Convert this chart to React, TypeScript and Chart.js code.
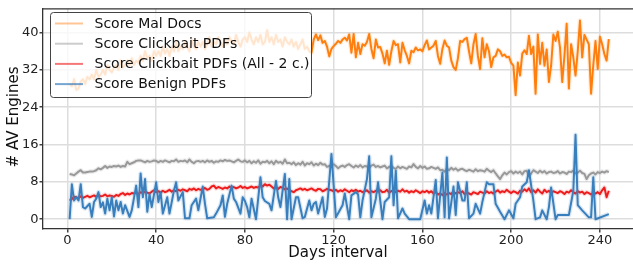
import React, { useEffect, useRef } from 'react';
import { Chart, registerables } from 'chart.js';

Chart.register(...registerables);

// ---- Data ----
const malScores = [
  29, 28.5, 30, 27.7, 28, 29.5, 30, 29, 30.5, 30,
  31, 30, 32, 30.5, 31, 32, 31, 33, 32, 31.5,
  32.5, 33, 32, 34, 32.5, 33, 34, 33, 34.5, 33,
  34, 33.5, 35, 34, 36, 34.5, 35, 34, 36, 35,
  36, 35, 37, 35.5, 36.5, 35, 37, 36, 38, 36,
  37, 36.5, 38, 37, 36, 38.5, 37, 36.5, 38, 37,
  38, 36.5, 37.5, 39, 37, 38, 37.5, 39, 38, 37,
  38.5, 37.5, 39, 38, 37.5, 39.5, 38, 37, 38.5, 39,
  38, 40, 38.5, 37.5, 39, 38, 39.5, 37.5, 38, 40.5,
  38, 39, 37.5, 39.5, 38, 38.5, 37, 39, 38, 37.5,
  38.5, 37, 38, 36.5, 37.5, 38.5, 36.5, 37, 36, 35.7,
  38.5, 39.6, 38.4, 39.4, 37.8, 38.2, 37.0, 34.9, 36.5, 37.1,
  37.6, 38.2, 37.8, 38.5, 38.9, 38.3, 39.6, 35.7, 39.7, 34.7,
  37.8, 35.4, 37.5, 37.2, 38.0, 39.7, 36.5, 34.5, 38.5, 36.8,
  36.9, 35.5, 33.4, 36.1, 33.1, 36.0, 38.2, 37.3, 37.5, 33.6,
  37.8, 36.2, 35.0, 33.4, 36.1, 35.8, 36.8, 36.2, 36.4, 36.0,
  37.3, 38.3, 36.4, 36.8, 37.2, 38.2, 35.0, 33.3, 36.5, 38.3,
  37.2, 36.8, 34.0, 32.6, 32.0, 34.5, 38.2, 38.0, 38.6, 38.9,
  36.0, 33.4, 37.5, 39.7, 35.0, 32.2, 38.8, 34.7, 37.5, 36.0,
  32.6, 34.7, 35.0, 36.4, 36.0, 35.0, 35.3, 34.7, 34.8, 33.5,
  32.9, 26.6, 33.6, 30.8, 35.5, 36.2, 35.4, 39.3, 35.4, 37.0,
  26.9, 39.6, 33.3, 37.8, 32.9, 36.4, 29.4, 33.0, 39.6, 38.2,
  40.2, 36.8, 29.4, 35.0, 41.9, 28.0, 37.5, 34.7, 30.8, 36.0,
  42.6, 34.7, 39.5, 38.5, 37.5, 26.9, 33.0, 38.2, 32.2, 39.1,
  37.5, 35.4, 34.0, 38.6,
];

const clickbaitScores = [
  9.7, 9.6, 9.4, 9.8, 10.2, 10.5, 10.0, 10.0, 10.1, 10.2,
  10.2, 10.3, 10.5, 10.9, 10.7, 11.0, 11.4, 11.0, 11.3, 11.2,
  11.4, 11.3, 11.5, 11.2, 11.4, 11.3, 12.3, 11.8, 12.0, 12.2,
  12.5, 12.6, 12.6, 12.4, 12.2, 12.5, 12.3, 12.4, 12.6, 12.5,
  12.2, 12.5, 12.3, 12.6, 12.4, 12.2, 12.5, 12.4, 12.8, 12.3,
  12.5, 12.4, 12.6, 12.2, 12.8, 12.3, 12.0, 12.4, 12.5, 12.3,
  12.5, 12.2, 12.6, 12.3, 12.5, 12.1, 12.4, 12.3, 12.6, 12.4,
  12.7, 12.5, 12.6, 12.4, 12.2, 12.5, 12.8, 12.4, 12.3, 12.6,
  12.2, 12.5, 12.0, 12.4, 12.1, 12.6, 11.9, 12.3, 12.2, 12.5,
  12.0, 12.4, 11.8, 12.5, 12.1, 12.3, 11.9, 12.8, 12.0, 12.1,
  11.8, 12.2, 11.6, 12.0, 11.7, 12.3, 11.5, 12.0, 11.8, 12.2,
  11.5, 11.9, 11.6, 12.1, 11.7, 11.8, 11.2, 11.4, 11.6, 11.8,
  11.4, 10.9, 11.3, 11.5, 11.2, 11.6, 11.8, 11.4, 11.1, 11.5,
  11.2, 11.6, 11.1, 11.4, 11.3, 11.0, 11.5, 11.7, 11.2, 11.4,
  11.1, 11.3, 11.5, 10.9, 11.2, 11.4, 11.0, 10.8, 11.3, 10.9,
  11.2, 11.0, 10.8, 11.3, 11.1, 11.8, 11.2, 10.9, 11.4, 11.0,
  11.3, 10.8, 10.9, 11.2, 11.0, 10.8, 11.1, 10.5, 10.6, 10.2,
  10.8, 10.5, 11.0, 10.6, 10.9, 10.4, 10.7, 10.8, 10.5, 10.3,
  10.6, 10.4, 10.2, 10.7, 10.3, 10.5, 10.4, 10.2, 10.8, 10.4,
  10.1, 10.5, 9.8, 9.2, 8.6, 9.4, 10.0, 9.6, 10.1, 10.3,
  9.8, 10.2, 9.9, 10.2, 9.6, 10.3, 10.4, 9.3, 9.8, 10.5,
  10.2, 9.9, 10.4, 10.0, 10.3, 9.8, 10.1, 10.2, 9.9, 10.0,
  10.3, 9.8, 10.1, 10.0, 9.7, 10.2, 10.1, 10.4, 9.8, 10.0,
  10.4, 9.9, 9.7, 8.6, 9.4, 9.8, 10.0, 9.6, 10.1, 9.9,
  10.2, 10.0, 10.3, 10.1,
];

const clickbait2cScores = [
  4.0, 4.3, 4.8, 4.7, 4.5, 4.9, 4.6, 4.8, 5.0, 4.7,
  4.9, 5.1, 4.8, 5.2, 4.9, 5.0, 5.3, 4.9, 5.1, 5.0,
  4.8, 5.2, 5.0, 5.4, 5.6, 5.2, 5.5, 5.3, 5.6, 5.5,
  5.7, 5.4, 5.8, 5.6, 5.9, 5.7, 5.5, 5.9, 6.2, 5.8,
  6.0, 5.7, 6.1, 5.8, 6.0, 6.3, 5.9, 6.2, 6.0, 6.3,
  6.1, 6.4, 6.2, 6.0, 6.5, 6.3, 6.6, 6.2, 6.5, 6.3,
  6.4, 6.7, 6.3, 6.5, 7.0, 7.2, 6.6, 6.9, 6.7, 6.5,
  6.8, 6.6, 7.0, 6.7, 6.9, 6.6, 6.8, 7.1, 6.7, 6.9,
  6.6, 6.8, 7.0, 6.7, 6.9, 6.8, 7.2, 7.0, 7.5, 7.2,
  7.4, 7.0, 6.6, 6.8, 6.5, 6.9, 6.7, 6.4, 6.6, 6.2,
  6.0, 5.8, 6.2, 6.4, 6.6, 6.3, 6.5, 6.2, 6.4, 6.6,
  6.3, 6.1, 6.5, 6.4, 6.0, 6.2, 6.5, 6.3, 6.2, 6.0,
  6.3, 5.9, 6.2, 6.0, 6.4, 6.1, 5.8, 6.2, 6.0, 6.3,
  5.9, 6.1, 5.8, 6.0, 6.2, 5.7, 6.0, 5.8, 6.1, 5.9,
  6.2, 5.8, 5.9, 6.3, 5.7, 6.0, 6.2, 5.8, 6.1, 5.9,
  6.4, 5.9, 6.1, 5.7, 6.0, 5.8, 6.2, 5.9, 5.6, 6.0,
  5.8, 6.1, 5.7, 6.0, 5.5, 5.8, 5.3, 5.5, 5.2, 5.6,
  5.3, 5.6, 5.4, 5.9, 5.5, 5.8, 5.6, 6.0, 5.4, 5.7,
  5.5, 5.3, 5.8, 5.6, 5.4, 5.9, 5.7, 5.5, 6.0, 5.6,
  5.8, 5.5, 5.9, 6.2, 5.7, 6.0, 5.8, 6.3, 5.9, 5.6,
  6.0, 5.8, 5.5, 6.1, 5.9, 6.4, 6.0, 6.6, 5.8, 6.2,
  5.7, 6.4, 5.9, 5.5, 6.3, 5.8, 6.1, 5.6, 6.0, 5.8,
  5.6, 6.0, 5.8, 5.4, 5.9, 5.7, 6.2, 5.8, 5.5, 6.0,
  5.7, 5.9, 5.4, 5.8, 5.6, 5.3, 5.7, 5.5, 5.8, 5.4,
  6.2, 6.8, 4.7, 6.1,
];

// Benign PDFs: [day, score] (some days missing)
const benignPoints: [number, number][] = [
  [1, 0], [2, 7.5], [3, 4.0], [4, 4.7], [5, 4.0], [6, 7.5], [7, 2.6], [8, 2.3], [10, 3.3], [11, 0.5],
  [12, 3.7], [13, 4.4], [14, 5.8], [15, 2.6], [16, 3.6], [17, 1.2], [18, 4.4], [19, 1.9], [20, 4.7], [21, 0.6],
  [22, 4.0], [23, 1.9], [24, 3.7], [25, 1.2], [26, 3.0], [28, 0.5], [29, 1.9], [31, 7.2], [32, 2.6], [33, 9.8],
  [34, 4.7], [35, 8.6], [36, 1.6], [37, 5.4], [38, 2.6], [40, 7.9], [41, 3.7], [42, 5.8], [43, 1.2], [45, 4.7],
  [46, 1.2], [48, 6.1], [49, 7.9], [50, 4.0], [52, 5.8], [53, 0.2], [55, 0.2], [56, 3.0], [58, 4.4], [59, 1.9],
  [61, 7.0], [62, 3.3], [63, 0.2], [66, 0.4], [67, 1.2], [69, 3.0], [70, 5.1], [71, 0.5], [72, 3.3], [74, 7.2],
  [75, 4.4], [76, 3.7], [78, 1.2], [79, 4.7], [80, 3.9], [81, 2.6], [82, 0.4], [83, 4.4], [85, 0], [87, 9.0],
  [88, 4.7], [89, 3.9], [91, 3.3], [92, 1.9], [94, 8.2], [95, 4.7], [96, 2.6], [98, 9.7], [99, 0], [100, 8.6],
  [101, 0], [103, 4.7], [104, 4.7], [106, 0.2], [107, 0.5], [109, 4.0], [110, 1.9], [111, 3.3], [112, 3.7], [113, 1.2],
  [115, 4.7], [116, 0.5], [117, 2.3], [119, 14.0], [121, 0.4], [124, 3.0], [125, 5.5], [127, 0], [128, 5.1], [130, 5.8],
  [131, 5.3], [132, 0.4], [133, 4.0], [135, 8.6], [136, 13.5], [137, 0.4], [139, 4.4], [140, 7.9], [142, 0], [143, 3.7],
  [145, 4.7], [146, 13.5], [147, 3.0], [148, 10.4], [149, 0.2], [151, 2.3], [152, 1.2], [154, 0], [159, 0], [161, 4.0],
  [162, 1.2], [163, 3.0], [164, 1.2], [166, 8.4], [167, 0.2], [169, 10.0], [170, 0.4], [171, 13.2], [172, 0.2], [174, 7.0],
  [175, 0.9], [176, 7.9], [178, 4.0], [179, 4.0], [180, 7.9], [181, 0.2], [183, 1.2], [184, 3.3], [186, 1.2], [187, 3.7],
  [189, 7.9], [190, 7.5], [192, 7.5], [193, 3.3], [195, 1.6], [197, 0], [199, 1.9], [201, 0.2], [202, 3.3], [204, 4.7],
  [205, 7.0], [207, 7.9], [208, 10.5], [210, 4.0], [211, 0], [213, 0.4], [214, 1.9], [216, 0], [217, 2.6], [218, 6.8],
  [220, 0], [221, 0.9], [226, 0.9], [228, 6.1], [229, 18.1], [230, 3.0], [232, 1.9], [235, 0.4], [236, 0.4], [237, 9.0],
  [238, 0], [244, 1.1],
];

const xTickValues = [0, 40, 80, 120, 160, 200, 240];
const yTickValues = [0, 8, 16, 24, 32, 40];
const seriesLabels = [
  'Score Mal Docs',
  'Score Clickbait PDFs',
  'Score Clickbait PDFs (All - 2 c.)',
  'Score Benign PDFs',
];
const xTitle = 'Days interval';
const yTitle = '# AV Engines';

const COLORS = {
  mal: '#ff7f0e',
  click: '#999999',
  click2: '#ee1c1c',
  benign: '#3a7fbd',
};
const HALO = {
  mal: 'rgba(255,127,14,0.15)',
  click: 'rgba(153,153,153,0.2)',
  click2: 'rgba(238,28,28,0.15)',
  benign: 'rgba(58,127,189,0.18)',
};
const HANDLE_COLORS = [
  'rgba(255,127,14,0.45)',
  'rgba(153,153,153,0.5)',
  'rgba(238,28,28,0.6)',
  'rgba(58,127,189,0.7)',
];

const FONT = "'DejaVu Sans', sans-serif";

const daily = (arr: number[]) => arr.map((v, i) => ({ x: i + 1, y: v }));

const overlayPlugin = {
  id: 'overlay',
  afterDraw(chart: any) {
    const ctx = chart.ctx as CanvasRenderingContext2D;
    const area = chart.chartArea;
    ctx.save();
    // top spine
    ctx.strokeStyle = '#333';
    ctx.lineWidth = 1.3;
    ctx.beginPath();
    ctx.moveTo(area.left, area.top);
    ctx.lineTo(area.right, area.top);
    ctx.stroke();

    // legend
    const lx = 50.5, ly = 12.5, lw = 261, lh = 85;
    ctx.beginPath();
    (ctx as any).roundRect(lx, ly, lw, lh, 3);
    ctx.fillStyle = 'rgba(255,255,255,0.8)';
    ctx.fill();
    ctx.strokeStyle = '#444';
    ctx.lineWidth = 1;
    ctx.stroke();
    ctx.font = `14px ${FONT}`;
    ctx.textBaseline = 'middle';
    ctx.textAlign = 'left';
    seriesLabels.forEach((label, i) => {
      const y = 23.5 + i * 20.2;
      ctx.strokeStyle = HANDLE_COLORS[i];
      ctx.lineWidth = 2;
      ctx.beginPath();
      ctx.moveTo(55, y);
      ctx.lineTo(83, y);
      ctx.stroke();
      ctx.fillStyle = '#111';
      ctx.fillText(label, 94.5, y + 0.5);
    });

    // axis titles
    ctx.fillStyle = '#111';
    ctx.font = `15px ${FONT}`;
    ctx.textAlign = 'center';
    ctx.textBaseline = 'middle';
    ctx.fillText(xTitle, 338, 253);
    ctx.translate(14, 117);
    ctx.rotate(-Math.PI / 2);
    ctx.fillText(yTitle, 0, 0);
    ctx.restore();
  },
};

export default function App() {
  const ref = useRef<HTMLCanvasElement | null>(null);
  useEffect(() => {
    if (!ref.current) return;
    const common = {
      pointRadius: 0,
      borderWidth: 2,
      tension: 0,
      borderJoinStyle: 'round' as const,
      fill: false,
    };
    const halo = { ...common, borderWidth: 4.5 };
    const benignData = benignPoints.map(([x, y]) => ({ x, y }));
    const chart = new Chart(ref.current, {
      type: 'line',
      data: {
        datasets: [
          { ...common, label: seriesLabels[3], data: benignData, borderColor: COLORS.benign },
          { ...halo, label: seriesLabels[3] + ' band', data: benignData, borderColor: HALO.benign },
          { ...common, label: seriesLabels[2], data: daily(clickbait2cScores), borderColor: COLORS.click2 },
          { ...halo, label: seriesLabels[2] + ' band', data: daily(clickbait2cScores), borderColor: HALO.click2 },
          { ...common, label: seriesLabels[1], data: daily(clickbaitScores), borderColor: COLORS.click },
          { ...halo, label: seriesLabels[1] + ' band', data: daily(clickbaitScores), borderColor: HALO.click },
          { ...common, label: seriesLabels[0], data: daily(malScores), borderColor: COLORS.mal },
          { ...halo, label: seriesLabels[0] + ' band', data: daily(malScores), borderColor: HALO.mal },
        ],
      },
      options: {
        animation: false,
        responsive: false,
        devicePixelRatio: 1,
        layout: { padding: { left: 0, right: 0, top: 5, bottom: 0 } },
        plugins: {
          legend: { display: false },
          tooltip: { enabled: false },
          title: { display: false },
        },
        scales: {
          x: {
            type: 'linear',
            min: -11.0,
            max: 254.9,
            afterFit: (s: any) => {
              s.height = 36;
            },
            afterBuildTicks: (s: any) => {
              s.ticks = xTickValues.map((v) => ({ value: v }));
            },
            grid: {
              color: '#dddddd',
              lineWidth: 1.5,
              tickColor: '#444',
              tickLength: 3.5,
            },
            border: { display: true, color: '#333', width: 1.3 },
            ticks: {
              font: { family: FONT, size: 13 },
              color: '#222',
              padding: 0,
              maxRotation: 0,
              autoSkip: false,
            },
          },
          y: {
            type: 'linear',
            min: -2.1,
            max: 45.1,
            afterFit: (s: any) => {
              s.width = 43;
            },
            afterBuildTicks: (s: any) => {
              s.ticks = yTickValues.map((v) => ({ value: v }));
            },
            grid: {
              color: '#dddddd',
              lineWidth: 1.5,
              tickColor: '#444',
              tickLength: 3.5,
            },
            border: { display: true, color: '#333', width: 1.3 },
            ticks: {
              font: { family: FONT, size: 13 },
              color: '#222',
              padding: 1,
              autoSkip: false,
            },
          },
        },
      },
      plugins: [overlayPlugin],
    });
    return () => chart.destroy();
  }, []);

  return (
    <div style={{ position: 'absolute', left: 0, top: 0, width: 633, height: 265, background: '#fff' }}>
      <canvas ref={ref} width={633} height={265} style={{ display: 'block', width: 633, height: 265 }} />
    </div>
  );
}
